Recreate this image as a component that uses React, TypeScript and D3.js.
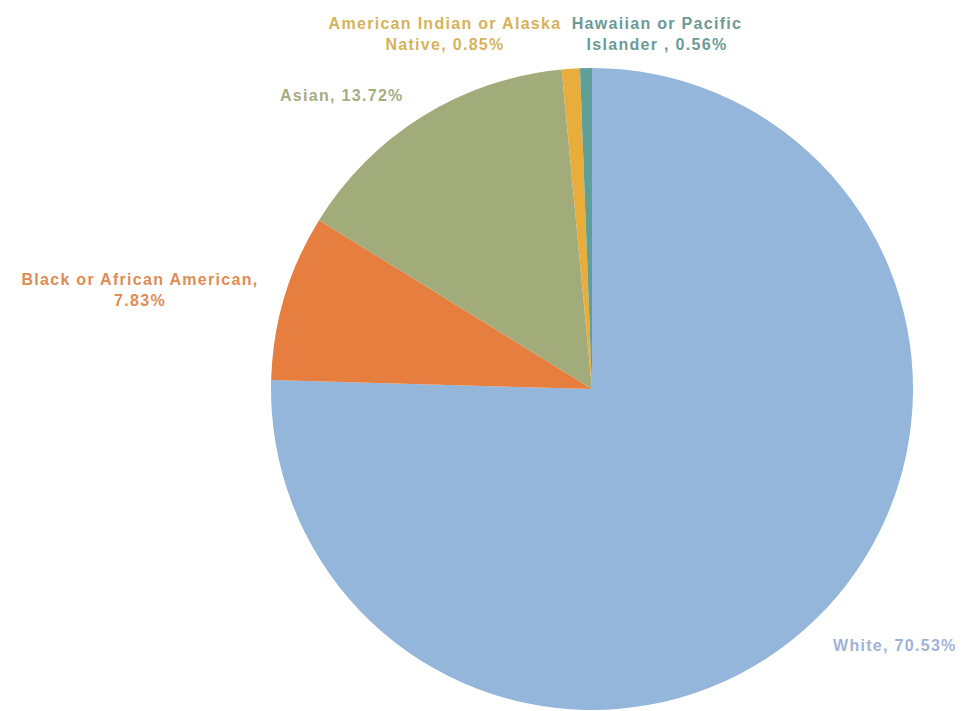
import React from "react";
import * as d3 from "d3";

const categories = [
  "White",
  "Black or African American",
  "Asian",
  "American Indian or Alaska Native",
  "Hawaiian or Pacific Islander ",
];
const values = [70.53, 7.83, 13.72, 0.85, 0.56];
const sliceColors = ["#93B6DA", "#E57E3E", "#A2AC7A", "#E8AD3A", "#5E9F9A"];
const labelColors = ["#9FB3D6", "#DF8C55", "#A6AC84", "#D6B25A", "#6C9A98"];
const labelLines = [
  ["White, 70.53%"],
  ["Black or African American,", "7.83%"],
  ["Asian, 13.72%"],
  ["American Indian or Alaska", "Native, 0.85%"],
  ["Hawaiian or Pacific", "Islander , 0.56%"],
];

// layout of labels (anchor, first baseline)
const labelLayout = [
  { x: 833, y: 651, anchor: "start" },
  { x: 140, y: 285, anchor: "middle" },
  { x: 280, y: 101, anchor: "start" },
  { x: 445, y: 29, anchor: "middle" },
  { x: 657, y: 29, anchor: "middle" },
];

const W = 973;
const H = 711;
const cx = 592;
const cy = 389;
const R = 321;

export default function App() {
  const data = categories.map((c, i) => ({ c, v: values[i], i }));
  const pie = d3
    .pie<any>()
    .value((d) => d.v)
    .sort(null)
    .startAngle(0)
    .endAngle(2 * Math.PI);
  const arcs = pie(data);
  const arc = d3.arc<any>().innerRadius(0).outerRadius(R);

  return (
    <svg
      width={W}
      height={H}
      style={{ position: "absolute", left: 0, top: 0, background: "#fff" }}
      fontFamily="'Liberation Sans', Arial, sans-serif"
    >
      <rect width={W} height={H} fill="#fff" />
      <g transform={`translate(${cx},${cy})`}>
        {arcs.map((a, i) => (
          <path key={i} d={arc(a) || ""} fill={sliceColors[i]} />
        ))}
      </g>
      {labelLines.map((lines, i) => (
        <text
          key={i}
          x={labelLayout[i].x}
          y={labelLayout[i].y}
          textAnchor={labelLayout[i].anchor as any}
          fill={labelColors[i]}
          fontSize={16}
          fontWeight="bold"
          letterSpacing={1.3}
        >
          {lines.map((l, j) => (
            <tspan key={j} x={labelLayout[i].x} dy={j === 0 ? 0 : 21}>
              {l}
            </tspan>
          ))}
        </text>
      ))}
    </svg>
  );
}
